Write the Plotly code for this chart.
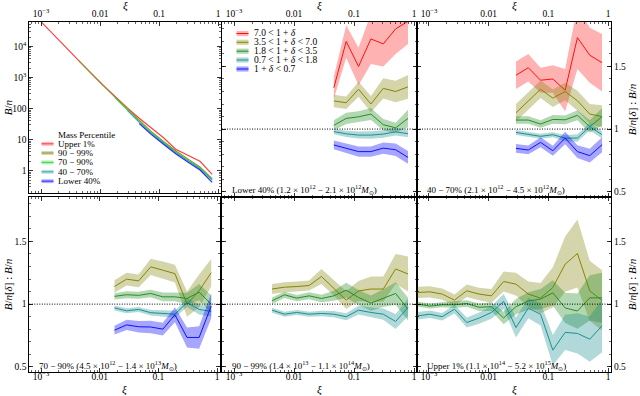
import plotly.graph_objects as go

W, H = 640, 396

# ---------------- data ----------------
xi_upper1 = [0.000646, 0.001038, 0.001667, 0.002679, 0.004305, 0.006918, 0.01112, 0.01786,
             0.02871, 0.04613, 0.07413, 0.1191, 0.1914, 0.3076, 0.4943, 0.7943]
xi_90_99 = [0.004305, 0.006918, 0.01112, 0.01786, 0.02871, 0.04613, 0.07413, 0.1191,
            0.1914, 0.3076, 0.4943, 0.7943]
xi_70_90 = [0.01786, 0.02871, 0.04613, 0.07413, 0.1191, 0.1914, 0.3076, 0.4943, 0.7943]
xi_40_70 = [0.02871, 0.04613, 0.07413, 0.1191, 0.1914, 0.3076, 0.4943, 0.7943]
xi_lower40 = [0.04613, 0.07413, 0.1191, 0.1914, 0.3076, 0.4943, 0.7943]

# panel 1: B/n per mass percentile
bn_upper1 = [1.48e5, 5.75e4, 2.24e4, 8.7e3, 3.55e3, 1.41e3, 575, 245, 107, 49, 23, 11.5, 4.9, 3.2, 2.0, 0.76]
bn_90_99 = [3.55e3, 1.41e3, 575, 234, 100, 42, 18, 8.7, 4.4, 2.4, 1.32, 0.55]
bn_70_90 = [224, 91, 38, 16.6, 7.9, 4.0, 2.2, 1.2, 0.52]
bn_40_70 = [89, 36, 15.8, 7.6, 3.8, 2.1, 1.15, 0.5]
bn_lower40 = [33, 14.5, 7.1, 3.5, 1.9, 1.05, 0.42]

# ratio B/n[delta] : B/n  (mid values and half-widths of the bands)
# Lower 40%
lo40_d1 = [1.33, 1.70, 1.50, 1.72, 1.68, 1.80, 1.86]
lo40_d1_err = [0.09, 0.13, 0.15, 0.20, 0.18, 0.20, 0.18]
lo40_d2 = [1.225, 1.21, 1.318, 1.20, 1.325, 1.30, 1.337]
lo40_d2_err = [0.05, 0.05, 0.06, 0.065, 0.08, 0.085, 0.095]
lo40_d3 = [1.03, 1.085, 1.098, 1.12, 1.035, 1.01, 1.085]
lo40_d3_err = [0.04, 0.045, 0.045, 0.048, 0.045, 0.04, 0.07]
lo40_d4 = [0.98, 0.962, 0.952, 0.952, 0.96, 0.978, 0.963]
lo40_d4_err = [0.022, 0.025, 0.028, 0.03, 0.03, 0.03, 0.028]
lo40_d5 = [0.873, 0.846, 0.82, 0.82, 0.848, 0.835, 0.774]
lo40_d5_err = [0.035, 0.04, 0.04, 0.04, 0.045, 0.05, 0.05]

# 40 - 70%
m4070_d1 = [1.43, 1.49, 1.39, 1.40, 1.31, 1.73, 1.59, 1.53]
m4070_d1_err = [0.11, 0.11, 0.10, 0.11, 0.17, 0.25, 0.22, 0.23]
m4070_d2 = [1.13, 1.225, 1.318, 1.247, 1.30, 1.226, 1.12, 1.10]
m4070_d2_err = [0.07, 0.07, 0.07, 0.07, 0.07, 0.08, 0.08, 0.09]
m4070_d3 = [1.072, 1.072, 1.04, 1.077, 1.074, 1.11, 1.02, 1.098]
m4070_d3_err = [0.03, 0.03, 0.03, 0.035, 0.035, 0.04, 0.05, 0.07]
m4070_d4 = [0.973, 0.96, 0.942, 0.955, 0.928, 0.928, 1.019, 0.955]
m4070_d4_err = [0.02, 0.02, 0.02, 0.02, 0.025, 0.03, 0.03, 0.03]
m4070_d5 = [0.846, 0.833, 0.894, 0.827, 0.928, 0.82, 0.788, 0.875]
m4070_d5_err = [0.035, 0.035, 0.04, 0.04, 0.05, 0.05, 0.055, 0.06]

# 70 - 90%
m7090_d2 = [1.14, 1.199, 1.185, 1.297, 1.27, 1.243, 1.0, 1.106, 1.25]
m7090_d2_err = [0.05, 0.05, 0.05, 0.065, 0.07, 0.07, 0.10, 0.13, 0.11]
m7090_d3 = [1.062, 1.075, 1.07, 1.085, 1.058, 1.058, 1.045, 1.095, 1.0]
m7090_d3_err = [0.025, 0.028, 0.028, 0.03, 0.035, 0.035, 0.045, 0.065, 0.07]
m7090_d4 = [0.97, 0.947, 0.958, 0.932, 0.926, 0.92, 1.012, 0.958, 0.942]
m7090_d4_err = [0.02, 0.02, 0.02, 0.022, 0.025, 0.028, 0.035, 0.04, 0.04]
m7090_d5 = [0.793, 0.835, 0.82, 0.818, 0.801, 0.915, 0.735, 0.735, 0.985]
m7090_d5_err = [0.035, 0.04, 0.045, 0.05, 0.05, 0.06, 0.08, 0.09, 0.10]

# 90 - 99%
m9099_d2 = [1.12, 1.135, 1.14, 1.148, 1.22, 1.128, 1.032, 1.105, 1.12, 1.12, 1.28, 1.24]
m9099_d2_err = [0.04, 0.04, 0.04, 0.04, 0.06, 0.06, 0.07, 0.08, 0.10, 0.10, 0.12, 0.14]
m9099_d3 = [1.027, 1.074, 1.048, 1.066, 1.045, 1.066, 1.111, 1.053, 1.008, 1.048, 1.085, 0.96]
m9099_d3_err = [0.025, 0.025, 0.025, 0.028, 0.03, 0.04, 0.06, 0.06, 0.06, 0.07, 0.09, 0.09]
m9099_d4 = [0.952, 0.92, 0.934, 0.92, 0.926, 0.92, 0.90, 0.952, 0.934, 0.92, 0.862, 0.973]
m9099_d4_err = [0.02, 0.02, 0.02, 0.02, 0.022, 0.025, 0.028, 0.035, 0.04, 0.045, 0.06, 0.07]

# Upper 1%
up1_d2 = [1.093, 1.098, 1.08, 1.032, 1.106, 1.08, 1.066, 1.18, 1.159, 1.08, 1.048, 1.133,
          1.318, 1.403, 1.106, 1.03]
up1_d2_err = [0.045, 0.045, 0.045, 0.045, 0.05, 0.05, 0.055, 0.08, 0.09, 0.10, 0.12, 0.16,
              0.22, 0.27, 0.24, 0.24]
up1_d3 = [1.0, 0.985, 0.995, 0.995, 1.005, 0.975, 0.98, 0.89, 0.98, 1.025, 1.04, 1.09,
          0.97, 0.945, 1.05, 1.05]
up1_d3_err = [0.02, 0.02, 0.02, 0.025, 0.025, 0.03, 0.035, 0.05, 0.06, 0.07, 0.08, 0.10,
              0.12, 0.14, 0.18, 0.20]
up1_d4 = [0.907, 0.92, 0.90, 0.96, 0.854, 0.889, 0.934, 1.021, 0.814, 0.968, 0.92, 0.634,
          0.775, 0.767, 0.721, 0.828]
up1_d4_err = [0.03, 0.03, 0.03, 0.035, 0.04, 0.045, 0.05, 0.06, 0.08, 0.08, 0.09, 0.12,
              0.14, 0.16, 0.18, 0.21]

delta_labels = ["7.0 &lt; 1 + <i>δ</i>", "3.5 &lt; 1 + <i>δ</i> &lt; 7.0",
                "1.8 &lt; 1 + <i>δ</i> &lt; 3.5", "0.7 &lt; 1 + <i>δ</i> &lt; 1.8",
                "1 + <i>δ</i> &lt; 0.7"]
mass_labels = ["Upper 1%", "90 − 99%", "70 − 90%", "40 − 70%", "Lower 40%"]
panel_texts = [
    "Lower 40% (1.2 × 10<sup>12</sup> − 2.1 × 10<sup>12</sup><i>M</i><sub>⊙</sub>)",
    "40 − 70% (2.1 × 10<sup>12</sup> − 4.5 × 10<sup>12</sup><i>M</i><sub>⊙</sub>)",
    "70 − 90% (4.5 × 10<sup>12</sup> − 1.4 × 10<sup>13</sup><i>M</i><sub>⊙</sub>)",
    "90 − 99% (1.4 × 10<sup>13</sup> − 1.1 × 10<sup>14</sup><i>M</i><sub>⊙</sub>)",
    "Upper 1% (1.1 × 10<sup>14</sup> − 5.2 × 10<sup>15</sup><i>M</i><sub>⊙</sub>)",
]

# ---------------- styling ----------------
FONT = "Liberation Serif"
dcol = ["#ff1010", "#858500", "#258f25", "#1a9090", "#1010ff"]
dfill = ["rgba(255,0,0,0.30)", "rgba(128,128,0,0.33)", "rgba(34,139,34,0.35)",
         "rgba(0,128,128,0.30)", "rgba(0,0,255,0.35)"]
mcol = ["#ff3b3b", "#8e8e2a", "#35d835", "#3aa6a6", "#2525ff"]
mfill = ["rgba(255,60,60,0.35)", "rgba(140,140,40,0.35)", "rgba(50,215,50,0.35)",
         "rgba(58,166,166,0.35)", "rgba(37,37,255,0.35)"]


def px(x):
    return x / W


def py(y):
    return 1 - y / H


colx = [(29.3, 221.0), (222.0, 417.0), (417.0, 611.0)]
rowy_top = (22.0, 196.7)
rowy_bot = (196.7, 372.0)

fig = go.Figure()

# ---- panel 1 ----
p1_series = [(xi_upper1, bn_upper1), (xi_90_99, bn_90_99), (xi_70_90, bn_70_90),
             (xi_40_70, bn_40_70), (xi_lower40, bn_lower40)]
for i, (xs, ys) in enumerate(p1_series):
    fig.add_trace(go.Scatter(x=xs, y=ys, mode="lines", line=dict(color=mcol[i], width=1.1),
                             xaxis="x", yaxis="y", showlegend=False, hoverinfo="skip"))

# ---- ratio panels ----
panels = [
    (2, xi_lower40, [(0, lo40_d1, lo40_d1_err), (1, lo40_d2, lo40_d2_err), (2, lo40_d3, lo40_d3_err),
                     (3, lo40_d4, lo40_d4_err), (4, lo40_d5, lo40_d5_err)]),
    (3, xi_40_70, [(0, m4070_d1, m4070_d1_err), (1, m4070_d2, m4070_d2_err), (2, m4070_d3, m4070_d3_err),
                   (3, m4070_d4, m4070_d4_err), (4, m4070_d5, m4070_d5_err)]),
    (4, xi_70_90, [(1, m7090_d2, m7090_d2_err), (2, m7090_d3, m7090_d3_err),
                   (3, m7090_d4, m7090_d4_err), (4, m7090_d5, m7090_d5_err)]),
    (5, xi_90_99, [(1, m9099_d2, m9099_d2_err), (2, m9099_d3, m9099_d3_err), (3, m9099_d4, m9099_d4_err)]),
    (6, xi_upper1, [(1, up1_d2, up1_d2_err), (2, up1_d3, up1_d3_err), (3, up1_d4, up1_d4_err)]),
]
for (n, xs, series) in panels:
    for (ci, mid, err) in series:
        hi = [m + e for m, e in zip(mid, err)]
        lo = [m - e for m, e in zip(mid, err)]
        fig.add_trace(go.Scatter(x=xs + xs[::-1], y=hi + lo[::-1], mode="lines", fill="toself",
                                 fillcolor=dfill[ci], line=dict(width=0), xaxis=f"x{n}", yaxis=f"y{n}",
                                 showlegend=False, hoverinfo="skip"))
        fig.add_trace(go.Scatter(x=xs, y=mid, mode="lines", line=dict(color=dcol[ci], width=1),
                                 xaxis=f"x{n}", yaxis=f"y{n}", showlegend=False, hoverinfo="skip"))

# ---- axes ----
minor_x = [m * 10 ** e for e in (-4, -3, -2, -1) for m in range(2, 10)]
minor_y1 = [m * 10 ** e for e in range(-1, 5) for m in range(2, 10)]
tickfont = dict(family=FONT, size=9.5, color="black")

common = dict(showline=True, linecolor="black", linewidth=1, mirror="allticks", ticks="inside",
              ticklen=4, tickwidth=0.8, tickcolor="black", showgrid=False, zeroline=False,
              tickfont=tickfont)


def xaxis_cfg(dom, anchor, side, standoff=0):
    return dict(type="log", range=[-3.2, 0.05], domain=[px(dom[0]), px(dom[1])], anchor=anchor,
                side=side, tickmode="array", tickvals=[1e-3, 1e-2, 1e-1, 1],
                ticktext=["10<sup>−3</sup>", "0.01", "0.1", "1"], ticklabelstandoff=standoff,
                minor=dict(tickmode="array", tickvals=minor_x, ticks="inside", ticklen=2,
                           tickcolor="black", tickwidth=0.6, showgrid=False),
                **common)


def ratio_y_cfg(rows, anchor, side, show):
    return dict(type="linear", range=[0.46, 1.855], domain=[py(rows[1]), py(rows[0])], anchor=anchor,
                side=side, showticklabels=show, tickmode="array", tickvals=[0.5, 1, 1.5],
                ticktext=["0.5", "1", "1.5"],
                minor=dict(tick0=0, dtick=0.1, ticks="inside", ticklen=2, tickcolor="black",
                           tickwidth=0.6, showgrid=False),
                **common)


layout = dict(width=W, height=H, margin=dict(l=0, r=0, t=0, b=0), paper_bgcolor="white",
              plot_bgcolor="rgba(0,0,0,0)", showlegend=False, font=dict(family=FONT, color="black"))

layout["xaxis"] = xaxis_cfg((29.3, 221.0), "y", "top")
layout["yaxis"] = dict(type="log", range=[-0.71, 4.79], domain=[py(192.7), py(22.0)], anchor="x",
                       side="left", tickmode="array", tickvals=[1, 10, 100, 1e3, 1e4],
                       ticktext=["1", "10", "100", "10<sup>3</sup>", "10<sup>4</sup>"],
                       minor=dict(tickmode="array", tickvals=minor_y1, ticks="inside", ticklen=2,
                                  tickcolor="black", tickwidth=0.6, showgrid=False),
                       **common)
layout["xaxis2"] = xaxis_cfg(colx[1], "y2", "top")
layout["yaxis2"] = ratio_y_cfg(rowy_top, "x2", "left", False)
layout["xaxis3"] = xaxis_cfg(colx[2], "y3", "top")
layout["yaxis3"] = ratio_y_cfg(rowy_top, "x3", "right", True)
layout["xaxis4"] = xaxis_cfg((29.3, 220.0), "y4", "bottom", -4)
layout["yaxis4"] = ratio_y_cfg(rowy_bot, "x4", "left", True)
layout["xaxis5"] = xaxis_cfg(colx[1], "y5", "bottom", -4)
layout["yaxis5"] = ratio_y_cfg(rowy_bot, "x5", "left", False)
layout["xaxis6"] = xaxis_cfg(colx[2], "y6", "bottom", -4)
layout["yaxis6"] = ratio_y_cfg(rowy_bot, "x6", "right", True)
fig.update_layout(**layout)

shapes = []
annotations = []

# dotted line at ratio 1
for n in range(2, 7):
    shapes.append(dict(type="line", xref=f"x{n} domain", yref=f"y{n}", x0=0, x1=1, y0=1, y1=1,
                       line=dict(color="black", width=1, dash="1px,1.5px")))

# panel 2 legend (density bins)
leg_y = [33.5, 42.3, 51.2, 60.0, 69.0]
for i, yy in enumerate(leg_y):
    shapes.append(dict(type="rect", xref="paper", yref="paper", x0=px(236.5), x1=px(248.5),
                       y0=py(yy + 2.6), y1=py(yy - 2.6), fillcolor=dfill[i], line=dict(width=0)))
    shapes.append(dict(type="line", xref="paper", yref="paper", x0=px(236.5), x1=px(248.5),
                       y0=py(yy), y1=py(yy), line=dict(color=dcol[i], width=1)))
    annotations.append(dict(xref="paper", yref="paper", x=px(252), y=py(yy), text=delta_labels[i],
                            showarrow=False, xanchor="left", yanchor="middle",
                            font=dict(family=FONT, size=9.5)))

# panel 1 legend (mass percentile)
annotations.append(dict(xref="paper", yref="paper", x=px(86), y=py(135), text="Mass Percentile",
                        showarrow=False, xanchor="center", yanchor="middle", font=dict(family=FONT, size=9)))
leg1_y = [143.8, 153.0, 162.4, 171.8, 181.2]
for i, yy in enumerate(leg1_y):
    shapes.append(dict(type="rect", xref="paper", yref="paper", x0=px(41.5), x1=px(53.5),
                       y0=py(yy + 2.0), y1=py(yy - 2.0), fillcolor=mfill[i], line=dict(width=0)))
    shapes.append(dict(type="line", xref="paper", yref="paper", x0=px(41.5), x1=px(53.5),
                       y0=py(yy), y1=py(yy), line=dict(color=mcol[i], width=1)))
    annotations.append(dict(xref="paper", yref="paper", x=px(56), y=py(yy), text=mass_labels[i],
                            showarrow=False, xanchor="left", yanchor="middle",
                            font=dict(family=FONT, size=9)))

# mass range labels
text_pos = [(colx[1][0], rowy_top[1]), (colx[2][0], rowy_top[1]), (29.3, rowy_bot[1]),
            (colx[1][0], rowy_bot[1]), (colx[2][0], rowy_bot[1])]
for t, (x0, yb) in zip(panel_texts, text_pos):
    annotations.append(dict(xref="paper", yref="paper", x=px(x0 + 8), y=py(yb - 7), text=t,
                            showarrow=False, xanchor="left", yanchor="middle",
                            font=dict(family=FONT, size=9)))

# axis titles
for cx in [(29.3 + 221) / 2, sum(colx[1]) / 2, sum(colx[2]) / 2]:
    annotations.append(dict(xref="paper", yref="paper", x=px(cx), y=py(6), text="<i>ξ</i>",
                            showarrow=False, xanchor="center", yanchor="middle", font=dict(family=FONT, size=11)))
for cx in [(29.3 + 220) / 2, sum(colx[1]) / 2, sum(colx[2]) / 2]:
    annotations.append(dict(xref="paper", yref="paper", x=px(cx), y=py(389), text="<i>ξ</i>",
                            showarrow=False, xanchor="center", yanchor="middle", font=dict(family=FONT, size=11)))
ratio_title = "<i>B</i>/<i>n</i>[<i>δ</i>] : <i>B</i>/<i>n</i>"
annotations.append(dict(xref="paper", yref="paper", x=px(8), y=py((22 + 192.7) / 2), text="<i>B</i>/<i>n</i>",
                        showarrow=False, textangle=-90, xanchor="center", yanchor="middle",
                        font=dict(family=FONT, size=11)))
annotations.append(dict(xref="paper", yref="paper", x=px(8), y=py(sum(rowy_bot) / 2), text=ratio_title,
                        showarrow=False, textangle=-90, xanchor="center", yanchor="middle",
                        font=dict(family=FONT, size=11)))
for rows in (rowy_top, rowy_bot):
    annotations.append(dict(xref="paper", yref="paper", x=px(632), y=py(sum(rows) / 2), text=ratio_title,
                            showarrow=False, textangle=-90, xanchor="center", yanchor="middle",
                            font=dict(family=FONT, size=11)))

fig.update_layout(shapes=shapes, annotations=annotations)
fig.write_html("out.html", config={"displayModeBar": False, "staticPlot": True},
               post_script="document.body.style.margin='0px';")
